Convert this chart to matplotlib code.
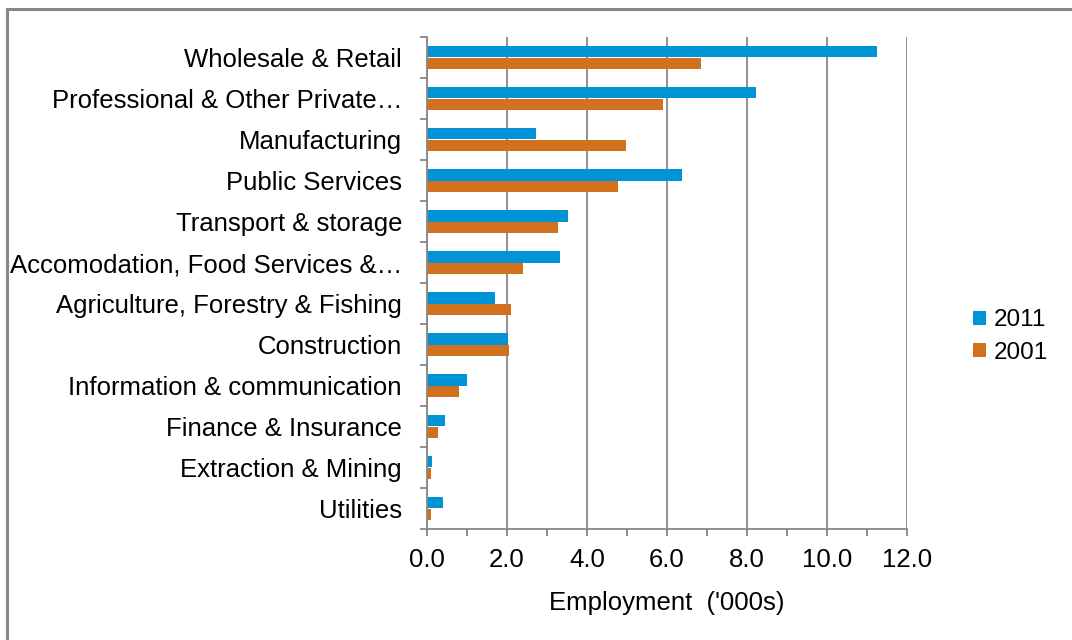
import numpy as np
import matplotlib
matplotlib.use("Agg")
from matplotlib import pyplot as plt
from matplotlib.patches import Rectangle

plt.rcParams['font.family'] = ['Liberation Sans', 'DejaVu Sans']

# employment by sector, thousands
sectors = ["Wholesale & Retail", "Professional & Other Private\u2026", "Manufacturing",
           "Public Services", "Transport & storage", "Accomodation, Food Services &\u2026",
           "Agriculture, Forestry & Fishing", "Construction", "Information & communication",
           "Finance & Insurance", "Extraction & Mining", "Utilities"]
emp_2011 = [11.25, 8.22, 2.72, 6.38, 3.52, 3.32, 1.70, 2.02, 1.00, 0.45, 0.12, 0.40]
emp_2001 = [6.86, 5.90, 4.97, 4.77, 3.27, 2.40, 2.10, 2.05, 0.80, 0.27, 0.10, 0.10]

blue = "#0094D6"
orange = "#D1711D"
grey = "#878787"
fs = 18.5

fig = plt.figure(figsize=(10.72, 6.4), dpi=100)
ax = fig.add_axes([427/1072, 1-529/640, (907-427)/1072, (529-37)/640])

y = np.arange(len(sectors))
h = 0.28
ax.barh(y - h/2, emp_2011, h, color=blue, label="2011")
ax.barh(y + h/2, emp_2001, h, color=orange, label="2001")

ax.set_ylim(len(sectors) - 0.5, -0.5)
ax.set_xlim(0, 12)
ax.set_xticks(np.arange(0, 12.1, 2))
ax.set_xticklabels(["%.1f" % v for v in np.arange(0, 12.1, 2)])
ax.set_yticks(y)
ax.set_yticklabels(sectors)
# tick marks sit between the categories
ax.set_yticks(np.arange(-0.5, len(sectors)), minor=True)
ax.tick_params(axis='y', which='major', length=0, pad=18, labelsize=fs)
ax.tick_params(axis='y', which='minor', length=5, width=1.3, color=grey)
ax.tick_params(axis='x', length=5, width=1.3, color=grey, pad=8.5, labelsize=fs)
ax.set_xticks(np.arange(1, 12, 2), minor=True)
ax.tick_params(axis='x', which='minor', length=5, width=1.3, color=grey)

ax.grid(axis='x', color=grey, linewidth=1.3)
ax.set_axisbelow(True)
for s in ['top', 'right']:
    ax.spines[s].set_visible(False)
for s in ['left', 'bottom']:
    ax.spines[s].set_color(grey)
    ax.spines[s].set_linewidth(1.3)

ax.set_xlabel("Employment  ('000s)", fontsize=fs, labelpad=14)

fig.legend(*ax.get_legend_handles_labels(), loc='center left',
           bbox_to_anchor=(973/1072, 1-336.5/640), frameon=False,
           fontsize=17.5, handlelength=0.53, handleheight=0.53,
           handletextpad=0.33, labelspacing=0.42, borderpad=0, borderaxespad=0)

# outer chart frame
fig.patches.append(Rectangle((6.5/1072, -0.1), 1.2, 1 - 9/640 + 0.1, transform=fig.transFigure,
                             fill=False, edgecolor=grey, linewidth=2.2))

fig.savefig("out.png", dpi=100)
